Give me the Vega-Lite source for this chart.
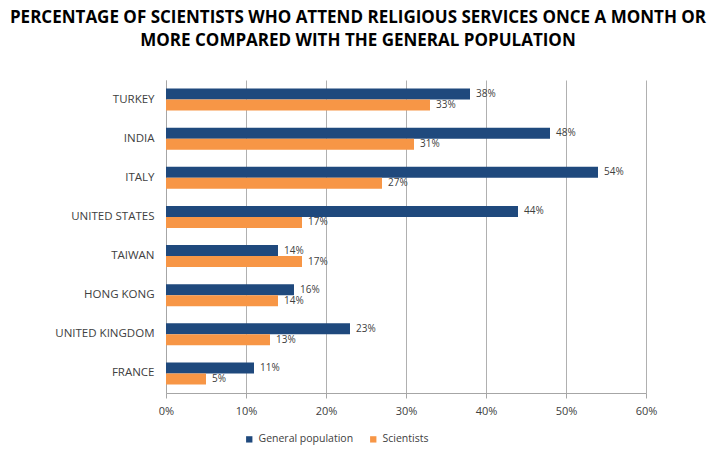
{
  "$schema": "https://vega.github.io/schema/vega-lite/v6.json",
  "width": 480,
  "height": 313,
  "autosize": {"type": "none"},
  "padding": {"left": 166, "top": 80, "right": 69, "bottom": 65},
  "background": "white",
  "title": {
    "text": ["PERCENTAGE OF SCIENTISTS WHO ATTEND RELIGIOUS SERVICES ONCE A MONTH OR", "MORE COMPARED WITH THE GENERAL POPULATION"],
    "anchor": "middle",
    "frame": "group",
    "dx": -48,
    "offset": 30,
    "font": "Open Sans",
    "fontSize": 17,
    "fontWeight": "bold",
    "color": "#000000",
    "lineHeight": 23
  },
  "data": {
    "values": [
      {"country": "TURKEY", "series": "General population", "value": 0.38},
      {"country": "TURKEY", "series": "Scientists", "value": 0.33},
      {"country": "INDIA", "series": "General population", "value": 0.48},
      {"country": "INDIA", "series": "Scientists", "value": 0.31},
      {"country": "ITALY", "series": "General population", "value": 0.54},
      {"country": "ITALY", "series": "Scientists", "value": 0.27},
      {"country": "UNITED STATES", "series": "General population", "value": 0.44},
      {"country": "UNITED STATES", "series": "Scientists", "value": 0.17},
      {"country": "TAIWAN", "series": "General population", "value": 0.14},
      {"country": "TAIWAN", "series": "Scientists", "value": 0.17},
      {"country": "HONG KONG", "series": "General population", "value": 0.16},
      {"country": "HONG KONG", "series": "Scientists", "value": 0.14},
      {"country": "UNITED KINGDOM", "series": "General population", "value": 0.23},
      {"country": "UNITED KINGDOM", "series": "Scientists", "value": 0.13},
      {"country": "FRANCE", "series": "General population", "value": 0.11},
      {"country": "FRANCE", "series": "Scientists", "value": 0.05}
    ]
  },
  "encoding": {
    "y": {
      "field": "country",
      "type": "nominal",
      "sort": null,
      "scale": {"paddingInner": 0.44, "paddingOuter": 0.22},
      "axis": {
        "title": null,
        "ticks": false,
        "domain": true,
        "domainColor": "#a6a6a6",
        "labelFont": "Open Sans",
        "labelFontSize": 11.5,
        "labelColor": "#404040",
        "labelPadding": 12
      }
    },
    "yOffset": {"field": "series", "type": "nominal", "sort": ["General population", "Scientists"]},
    "x": {
      "field": "value",
      "type": "quantitative",
      "scale": {"domain": [0, 0.6], "nice": false},
      "axis": {
        "title": null,
        "values": [0, 0.1, 0.2, 0.3, 0.4, 0.5, 0.6],
        "format": ".0%",
        "labelFlush": false,
        "grid": true,
        "gridColor": "#b0b0b0",
        "domainColor": "#a6a6a6",
        "tickColor": "#a6a6a6",
        "tickSize": 5,
        "labelFont": "Open Sans",
        "labelFontSize": 11,
        "labelColor": "#404040",
        "labelPadding": 7
      }
    }
  },
  "layer": [
    {
      "mark": {"type": "bar"},
      "encoding": {
        "color": {
          "field": "series",
          "type": "nominal",
          "scale": {"domain": ["General population", "Scientists"], "range": ["#1f497d", "#f79646"]},
          "legend": {
            "title": null,
            "orient": "none",
            "direction": "horizontal",
            "legendX": 78,
            "legendY": 354,
            "symbolType": "square",
            "symbolSize": 40,
            "labelFont": "Open Sans",
            "labelFontSize": 10.5,
            "labelColor": "#404040",
            "columnPadding": 14,
            "labelOffset": 4
          }
        }
      }
    },
    {
      "mark": {"type": "text", "align": "left", "baseline": "middle", "dx": 6, "font": "Open Sans", "fontSize": 10, "color": "#404040"},
      "encoding": {
        "text": {"field": "value", "type": "quantitative", "format": ".0%"},
        "detail": {"field": "series"}
      }
    }
  ],
  "config": {"view": {"stroke": null}}
}
